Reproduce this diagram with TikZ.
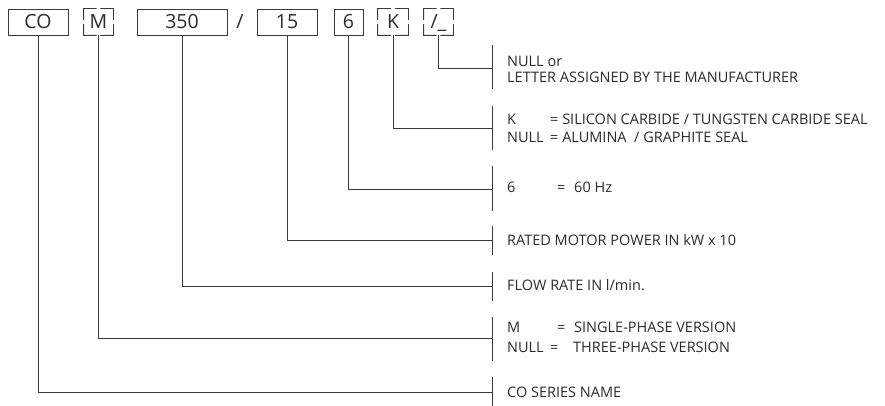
\documentclass[tikz,border=0pt]{standalone}
\usepackage{fontspec}
\setmainfont{Open Sans}
\usetikzlibrary{calc}
\definecolor{linegray}{HTML}{3A3A3A}
\definecolor{txt}{HTML}{2B2B2B}
\newcommand{\cornerbox}[1]{%
  \draw[line] ($(#1.north west)!.44!(#1.north east)$) -- (#1.north west) -- ($(#1.north west)!.42!(#1.south west)$);
  \draw[line] ($(#1.north east)!.44!(#1.north west)$) -- (#1.north east) -- ($(#1.north east)!.42!(#1.south east)$);
  \draw[line] ($(#1.south west)!.44!(#1.south east)$) -- (#1.south west) -- ($(#1.south west)!.42!(#1.north west)$);
  \draw[line] ($(#1.south east)!.44!(#1.south west)$) -- (#1.south east) -- ($(#1.south east)!.42!(#1.north east)$);
}
\begin{document}
\begin{tikzpicture}[x=1pt,y=-1pt,
  line/.style={draw=linegray, line width=0.8pt},
  codebox/.style={draw=linegray, line width=0.8pt, inner sep=0pt, minimum height=26pt,
    text height=14pt, text depth=0pt, font=\fontsize{19.5}{22}\selectfont, text=txt},
  dbox/.style={codebox, draw=none},
  desc/.style={anchor=base west, inner sep=0pt, font=\fontsize{14.5}{17}\selectfont, text=txt}]
\useasboundingbox (0,0) rectangle (885,406);
% code boxes
\node[codebox, minimum width=60pt] (co) at (38,22) {CO};
\node[dbox, minimum width=29pt] (m) at (98.5,22) {M};
\node[codebox, minimum width=90pt] (fl) at (182,22) {350};
\node[inner sep=0pt, text height=14pt, text depth=0pt, font=\fontsize{19.5}{22}\selectfont, text=txt] (sl) at (240,22) {/};
\node[codebox, minimum width=60pt] (pw) at (287,22) {15};
\node[codebox, minimum width=29pt] (hz) at (348.5,22) {6};
\node[dbox, minimum width=30pt] (k) at (393,22) {K};
\node[dbox, minimum width=29pt] (us) at (438.5,22) {/\_};
\cornerbox{m}
\cornerbox{k}
\cornerbox{us}
% bracket coordinates
\coordinate (bUS) at (492,68);  \coordinate (bUSt) at (492,45);  \coordinate (bUSb) at (492,89);
\coordinate (bK)  at (492,128); \coordinate (bKt)  at (492,106); \coordinate (bKb)  at (492,150);
\coordinate (bHZ) at (492,189); \coordinate (bHZt) at (492,166); \coordinate (bHZb) at (492,211);
\coordinate (bPW) at (492,240); \coordinate (bPWt) at (492,226); \coordinate (bPWb) at (492,255);
\coordinate (bFL) at (492,286); \coordinate (bFLt) at (492,272); \coordinate (bFLb) at (492,301);
\coordinate (bM)  at (492,338); \coordinate (bMt)  at (492,317); \coordinate (bMb)  at (492,361);
\coordinate (bCO) at (492,392); \coordinate (bCOt) at (492,377); \coordinate (bCOb) at (492,406);
% connectors
\draw[line] (us.south) |- (bUS);
\draw[line] (k.south)  |- (bK);
\draw[line] (hz.south) |- (bHZ);
\draw[line] (pw.south) |- (bPW);
\draw[line] (fl.south) |- (bFL);
\draw[line] (m.south)  |- (bM);
\draw[line] (co.south) |- (bCO);
% brackets
\draw[line] (bUSt) -- (bUSb);
\draw[line] (bKt) -- (bKb);
\draw[line] (bHZt) -- (bHZb);
\draw[line] (bPWt) -- (bPWb);
\draw[line] (bFLt) -- (bFLb);
\draw[line] (bMt) -- (bMb);
\draw[line] (bCOt) -- (bCOb);
% descriptions
\node[desc] (t1) at (507,67) {NULL or};
\node[desc] (t2) at (507,83) {LETTER ASSIGNED BY THE MANUFACTURER};
\node[desc] (t3) at (507,125) {K};
\node[desc] (t3b) at (550,125) {= SILICON CARBIDE / TUNGSTEN CARBIDE SEAL};
\node[desc] (t4) at (507,143) {NULL};
\node[desc] (t4b) at (550,143) {= ALUMINA \ / GRAPHITE SEAL};
\node[desc] (t5) at (507,193) {6};
\node[desc] (t5b) at (557,193) {=};
\node[desc] (t5c) at (574,193) {60 Hz};
\node[desc] (t6) at (507,245) {RATED MOTOR POWER IN kW x 10};
\node[desc] (t7) at (507,290) {FLOW RATE IN l/min.};
\node[desc] (t8) at (507,332) {M};
\node[desc] (t8b) at (557,332) {=};
\node[desc] (t8c) at (574,332) {SINGLE-PHASE VERSION};
\node[desc] (t9) at (507,352) {NULL};
\node[desc] (t9b) at (550,352) {=};
\node[desc] (t9c) at (573,352) {THREE-PHASE VERSION};
\node[desc] (t10) at (507,397) {CO SERIES NAME};
\end{tikzpicture}
\end{document}
